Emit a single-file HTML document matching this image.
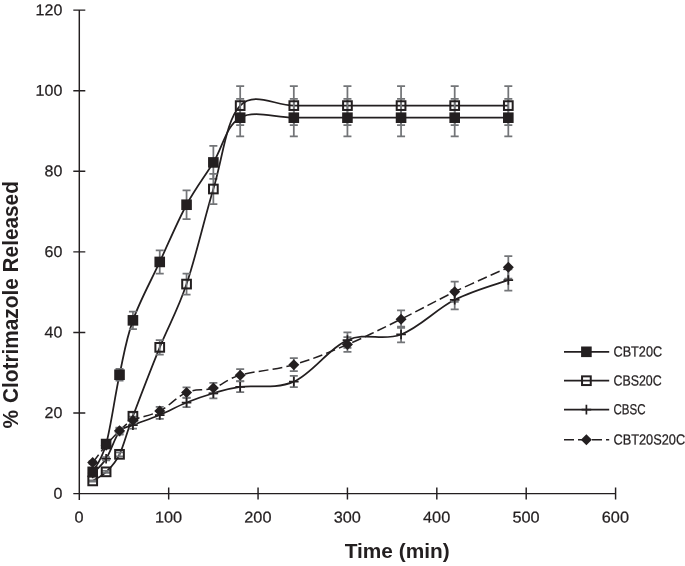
<!DOCTYPE html>
<html><head><meta charset="utf-8"><title>Clotrimazole release</title>
<style>html,body{margin:0;padding:0;background:#fff}svg{display:block}</style></head>
<body>
<svg width="685" height="566" viewBox="0 0 685 566" font-family="'Liberation Sans', sans-serif">
<rect width="685" height="566" fill="#fff"/>
<g stroke="#231f20" stroke-width="1.45" fill="none">
<path d="M79.3 10.12 V500.1"/>
<path d="M73.3 493.6 H615.58"/>
<path d="M73.3 413.02h12M73.3 332.44h12M73.3 251.86h12M73.3 171.28h12M73.3 90.7h12M73.3 10.12h12M168.68 487.6v12M258.06 487.6v12M347.44 487.6v12M436.82 487.6v12M526.2 487.6v12M615.58 487.6v12"/>
</g>
<g font-size="15.6" fill="#231f20" stroke="#231f20" stroke-width="0.25">
<text transform="translate(62.3 498.7) rotate(0.1)" text-anchor="end" textLength="8.9" lengthAdjust="spacingAndGlyphs">0</text>
<text transform="translate(62.3 418.12) rotate(0.1)" text-anchor="end" textLength="17.8" lengthAdjust="spacingAndGlyphs">20</text>
<text transform="translate(62.3 337.54) rotate(0.1)" text-anchor="end" textLength="17.8" lengthAdjust="spacingAndGlyphs">40</text>
<text transform="translate(62.3 256.96) rotate(0.1)" text-anchor="end" textLength="17.8" lengthAdjust="spacingAndGlyphs">60</text>
<text transform="translate(62.3 176.38) rotate(0.1)" text-anchor="end" textLength="17.8" lengthAdjust="spacingAndGlyphs">80</text>
<text transform="translate(62.3 95.8) rotate(0.1)" text-anchor="end" textLength="26.7" lengthAdjust="spacingAndGlyphs">100</text>
<text transform="translate(62.3 15.22) rotate(0.1)" text-anchor="end" textLength="26.7" lengthAdjust="spacingAndGlyphs">120</text>
<text transform="translate(79.1 522.6) rotate(0.1)" text-anchor="middle" textLength="9.05" lengthAdjust="spacingAndGlyphs">0</text>
<text transform="translate(168.48 522.6) rotate(0.1)" text-anchor="middle" textLength="27.15" lengthAdjust="spacingAndGlyphs">100</text>
<text transform="translate(257.86 522.6) rotate(0.1)" text-anchor="middle" textLength="27.15" lengthAdjust="spacingAndGlyphs">200</text>
<text transform="translate(347.24 522.6) rotate(0.1)" text-anchor="middle" textLength="27.15" lengthAdjust="spacingAndGlyphs">300</text>
<text transform="translate(436.62 522.6) rotate(0.1)" text-anchor="middle" textLength="27.15" lengthAdjust="spacingAndGlyphs">400</text>
<text transform="translate(526 522.6) rotate(0.1)" text-anchor="middle" textLength="27.15" lengthAdjust="spacingAndGlyphs">500</text>
<text transform="translate(615.38 522.6) rotate(0.1)" text-anchor="middle" textLength="27.15" lengthAdjust="spacingAndGlyphs">600</text>
</g>
<text x="397.2" y="557.8" text-anchor="middle" font-size="20.8" font-weight="bold" textLength="105" lengthAdjust="spacingAndGlyphs" fill="#231f20">Time (min)</text>
<text transform="translate(17.9 428.4) rotate(-90) scale(1 1.05)" font-size="20.8" font-weight="bold" fill="#231f20">% <tspan dx="1.2">Clotrimazole Released</tspan></text>
<path d="M92.71 471.84C95.06 466.97 101.41 461.08 106.11 444.04C110.82 427.01 114.82 396.44 119.52 374.74C124.23 353.04 125.87 340.14 132.93 320.35C139.98 300.56 150.33 282.22 159.74 261.93C169.15 241.65 177.15 222.18 186.56 204.72C195.96 187.26 203.96 177.68 213.37 162.42C222.78 147.15 226.07 125.54 240.18 117.69C254.3 109.85 275 117.69 293.81 117.69C312.63 117.69 328.62 117.69 347.44 117.69C366.26 117.69 382.25 117.69 401.07 117.69C419.88 117.69 435.88 117.69 454.7 117.69C473.51 117.69 498.92 117.69 508.32 117.69" fill="none" stroke="#231f20" stroke-width="1.75"/>
<path d="M92.71 470.76V472.93M88.71 470.76h8M88.71 472.93h8M106.11 441.57V446.52M102.11 441.57h8M102.11 446.52h8M119.52 368.8V380.69M115.52 368.8h8M115.52 380.69h8M132.93 311.69V329.02M128.93 311.69h8M128.93 329.02h8M159.74 250.35V273.52M155.74 250.35h8M155.74 273.52h8M186.56 190.28V219.16M182.56 190.28h8M182.56 219.16h8M213.37 145.86V178.98M209.37 145.86h8M209.37 178.98h8M240.18 98.9V136.49M236.18 98.9h8M236.18 136.49h8M293.81 98.9V136.49M289.81 98.9h8M289.81 136.49h8M347.44 98.9V136.49M343.44 98.9h8M343.44 136.49h8M401.07 98.9V136.49M397.07 98.9h8M397.07 136.49h8M454.7 98.9V136.49M450.7 98.9h8M450.7 136.49h8M508.32 98.9V136.49M504.32 98.9h8M504.32 136.49h8" fill="none" stroke="#737578" stroke-width="1.75"/>
<path d="M92.71 480.91C95.06 479.32 101.41 476.51 106.11 471.84C110.82 467.18 114.82 464.07 119.52 454.32C124.23 444.56 125.87 435.01 132.93 416.24C139.98 397.48 150.33 370.53 159.74 347.35C169.15 324.16 177.15 311.87 186.56 284.09C195.96 256.31 203.96 220.32 213.37 189.01C222.78 157.69 226.07 120.24 240.18 105.61C254.3 90.98 275 105.61 293.81 105.61C312.63 105.61 328.62 105.61 347.44 105.61C366.26 105.61 382.25 105.61 401.07 105.61C419.88 105.61 435.88 105.61 454.7 105.61C473.51 105.61 498.92 105.61 508.32 105.61" fill="none" stroke="#231f20" stroke-width="1.75"/>
<path d="M92.71 480.27V481.54M88.71 480.27h8M88.71 481.54h8M106.11 470.76V472.93M102.11 470.76h8M102.11 472.93h8M119.52 452.35V456.28M115.52 452.35h8M115.52 456.28h8M132.93 412.38V420.11M128.93 412.38h8M128.93 420.11h8M159.74 340.03V354.66M155.74 340.03h8M155.74 354.66h8M186.56 273.62V294.57M182.56 273.62h8M182.56 294.57h8M213.37 173.78V204.24M209.37 173.78h8M209.37 204.24h8M240.18 86.21V125.01M236.18 86.21h8M236.18 125.01h8M293.81 86.21V125.01M289.81 86.21h8M289.81 125.01h8M347.44 86.21V125.01M343.44 86.21h8M343.44 125.01h8M401.07 86.21V125.01M397.07 86.21h8M397.07 125.01h8M454.7 86.21V125.01M450.7 86.21h8M450.7 125.01h8M508.32 86.21V125.01M504.32 86.21h8M504.32 125.01h8" fill="none" stroke="#737578" stroke-width="1.75"/>
<path d="M92.71 473.46C95.06 470.88 101.41 466.1 106.11 458.75C110.82 451.4 114.82 437.46 119.52 431.55C124.23 425.65 125.87 428.01 132.93 425.11C139.98 422.21 150.33 418.99 159.74 415.03C169.15 411.08 177.15 406.36 186.56 402.54C195.96 398.73 203.96 396.03 213.37 393.28C222.78 390.52 226.07 388.88 240.18 386.83C254.3 384.78 275 389.79 293.81 381.59C312.63 373.39 328.62 348.37 347.44 340.1C366.26 331.83 382.25 341.52 401.07 334.45C419.88 327.39 435.88 309.35 454.7 299.81C473.51 290.26 498.92 283.53 508.32 280.06" fill="none" stroke="#231f20" stroke-width="1.75"/>
<path d="M92.71 472.45V474.46M88.71 472.45h8M88.71 474.46h8M106.11 457.01V460.49M102.11 457.01h8M102.11 460.49h8M119.52 428.45V434.66M115.52 428.45h8M115.52 434.66h8M132.93 421.68V428.53M128.93 421.68h8M128.93 428.53h8M159.74 411.11V418.96M155.74 411.11h8M155.74 418.96h8M186.56 397.99V407.1M182.56 397.99h8M182.56 407.1h8M213.37 388.26V398.29M209.37 388.26h8M209.37 398.29h8M240.18 381.49V392.17M236.18 381.49h8M236.18 392.17h8M293.81 375.99V387.19M289.81 375.99h8M289.81 387.19h8M347.44 332.42V347.77M343.44 332.42h8M343.44 347.77h8M401.07 326.5V342.41M397.07 326.5h8M397.07 342.41h8M454.7 290.12V309.49M450.7 290.12h8M450.7 309.49h8M508.32 269.39V290.74M504.32 269.39h8M504.32 290.74h8" fill="none" stroke="#737578" stroke-width="1.75"/>
<path d="M92.71 462.58C95.06 459.54 101.41 450.84 106.11 445.25C110.82 439.67 114.82 435.13 119.52 430.75C124.23 426.37 125.87 423.74 132.93 420.27C139.98 416.81 150.33 415.88 159.74 411.01C169.15 406.13 177.15 396.5 186.56 392.47C195.96 388.44 203.96 391.08 213.37 388.04C222.78 385 226.07 379.25 240.18 375.15C254.3 371.05 275 370.04 293.81 364.67C312.63 359.3 328.62 352.51 347.44 344.53C366.26 336.54 382.25 328.4 401.07 319.14C419.88 309.88 435.88 300.83 454.7 291.75C473.51 282.66 498.92 271.65 508.32 267.37" fill="none" stroke="#231f20" stroke-width="1.5" stroke-dasharray="9.8 4.2"/>
<path d="M92.71 461.03V464.13M88.71 461.03h8M88.71 464.13h8M106.11 442.83V447.67M102.11 442.83h8M102.11 447.67h8M119.52 427.6V433.89M115.52 427.6h8M115.52 433.89h8M132.93 416.61V423.94M128.93 416.61h8M128.93 423.94h8M159.74 406.88V415.14M155.74 406.88h8M155.74 415.14h8M186.56 387.42V397.53M182.56 387.42h8M182.56 397.53h8M213.37 382.76V393.32M209.37 382.76h8M209.37 393.32h8M240.18 369.22V381.07M236.18 369.22h8M236.18 381.07h8M293.81 358.23V371.12M289.81 358.23h8M289.81 371.12h8M347.44 337.07V351.98M343.44 337.07h8M343.44 351.98h8M401.07 310.42V327.87M397.07 310.42h8M397.07 327.87h8M454.7 281.65V301.84M450.7 281.65h8M450.7 301.84h8M508.32 256.06V278.68M504.32 256.06h8M504.32 278.68h8" fill="none" stroke="#737578" stroke-width="1.75"/>
<rect x="87.41" y="466.54" width="10.6" height="10.6" fill="#231f20"/>
<rect x="100.81" y="438.74" width="10.6" height="10.6" fill="#231f20"/>
<rect x="114.22" y="369.44" width="10.6" height="10.6" fill="#231f20"/>
<rect x="127.63" y="315.05" width="10.6" height="10.6" fill="#231f20"/>
<rect x="154.44" y="256.63" width="10.6" height="10.6" fill="#231f20"/>
<rect x="181.26" y="199.42" width="10.6" height="10.6" fill="#231f20"/>
<rect x="208.07" y="157.12" width="10.6" height="10.6" fill="#231f20"/>
<rect x="234.88" y="112.39" width="10.6" height="10.6" fill="#231f20"/>
<rect x="288.51" y="112.39" width="10.6" height="10.6" fill="#231f20"/>
<rect x="342.14" y="112.39" width="10.6" height="10.6" fill="#231f20"/>
<rect x="395.77" y="112.39" width="10.6" height="10.6" fill="#231f20"/>
<rect x="449.4" y="112.39" width="10.6" height="10.6" fill="#231f20"/>
<rect x="503.02" y="112.39" width="10.6" height="10.6" fill="#231f20"/>
<rect x="88.36" y="476.56" width="8.7" height="8.7" fill="none" stroke="#231f20" stroke-width="2"/>
<rect x="101.76" y="467.49" width="8.7" height="8.7" fill="none" stroke="#231f20" stroke-width="2"/>
<rect x="115.17" y="449.97" width="8.7" height="8.7" fill="none" stroke="#231f20" stroke-width="2"/>
<rect x="128.58" y="411.89" width="8.7" height="8.7" fill="none" stroke="#231f20" stroke-width="2"/>
<rect x="155.39" y="343" width="8.7" height="8.7" fill="none" stroke="#231f20" stroke-width="2"/>
<rect x="182.21" y="279.74" width="8.7" height="8.7" fill="none" stroke="#231f20" stroke-width="2"/>
<rect x="209.02" y="184.66" width="8.7" height="8.7" fill="none" stroke="#231f20" stroke-width="2"/>
<rect x="235.83" y="101.26" width="8.7" height="8.7" fill="none" stroke="#231f20" stroke-width="2"/>
<rect x="289.46" y="101.26" width="8.7" height="8.7" fill="none" stroke="#231f20" stroke-width="2"/>
<rect x="343.09" y="101.26" width="8.7" height="8.7" fill="none" stroke="#231f20" stroke-width="2"/>
<rect x="396.72" y="101.26" width="8.7" height="8.7" fill="none" stroke="#231f20" stroke-width="2"/>
<rect x="450.35" y="101.26" width="8.7" height="8.7" fill="none" stroke="#231f20" stroke-width="2"/>
<rect x="503.97" y="101.26" width="8.7" height="8.7" fill="none" stroke="#231f20" stroke-width="2"/>
<path d="M87.91 473.46h9.6M92.71 468.66v9.6" stroke="#231f20" stroke-width="1.7" fill="none"/>
<path d="M101.31 458.75h9.6M106.11 453.95v9.6" stroke="#231f20" stroke-width="1.7" fill="none"/>
<path d="M114.72 431.55h9.6M119.52 426.75v9.6" stroke="#231f20" stroke-width="1.7" fill="none"/>
<path d="M128.13 425.11h9.6M132.93 420.31v9.6" stroke="#231f20" stroke-width="1.7" fill="none"/>
<path d="M154.94 415.03h9.6M159.74 410.23v9.6" stroke="#231f20" stroke-width="1.7" fill="none"/>
<path d="M181.76 402.54h9.6M186.56 397.74v9.6" stroke="#231f20" stroke-width="1.7" fill="none"/>
<path d="M208.57 393.28h9.6M213.37 388.48v9.6" stroke="#231f20" stroke-width="1.7" fill="none"/>
<path d="M235.38 386.83h9.6M240.18 382.03v9.6" stroke="#231f20" stroke-width="1.7" fill="none"/>
<path d="M289.01 381.59h9.6M293.81 376.79v9.6" stroke="#231f20" stroke-width="1.7" fill="none"/>
<path d="M342.64 340.1h9.6M347.44 335.3v9.6" stroke="#231f20" stroke-width="1.7" fill="none"/>
<path d="M396.27 334.45h9.6M401.07 329.65v9.6" stroke="#231f20" stroke-width="1.7" fill="none"/>
<path d="M449.9 299.81h9.6M454.7 295.01v9.6" stroke="#231f20" stroke-width="1.7" fill="none"/>
<path d="M503.52 280.06h9.6M508.32 275.26v9.6" stroke="#231f20" stroke-width="1.7" fill="none"/>
<path d="M92.71 457.08l5.5 5.5l-5.5 5.5l-5.5 -5.5z" fill="#231f20"/>
<path d="M106.11 439.75l5.5 5.5l-5.5 5.5l-5.5 -5.5z" fill="#231f20"/>
<path d="M119.52 425.25l5.5 5.5l-5.5 5.5l-5.5 -5.5z" fill="#231f20"/>
<path d="M132.93 414.77l5.5 5.5l-5.5 5.5l-5.5 -5.5z" fill="#231f20"/>
<path d="M159.74 405.51l5.5 5.5l-5.5 5.5l-5.5 -5.5z" fill="#231f20"/>
<path d="M186.56 386.97l5.5 5.5l-5.5 5.5l-5.5 -5.5z" fill="#231f20"/>
<path d="M213.37 382.54l5.5 5.5l-5.5 5.5l-5.5 -5.5z" fill="#231f20"/>
<path d="M240.18 369.65l5.5 5.5l-5.5 5.5l-5.5 -5.5z" fill="#231f20"/>
<path d="M293.81 359.17l5.5 5.5l-5.5 5.5l-5.5 -5.5z" fill="#231f20"/>
<path d="M347.44 339.03l5.5 5.5l-5.5 5.5l-5.5 -5.5z" fill="#231f20"/>
<path d="M401.07 313.64l5.5 5.5l-5.5 5.5l-5.5 -5.5z" fill="#231f20"/>
<path d="M454.7 286.25l5.5 5.5l-5.5 5.5l-5.5 -5.5z" fill="#231f20"/>
<path d="M508.32 261.87l5.5 5.5l-5.5 5.5l-5.5 -5.5z" fill="#231f20"/>
<path d="M564 351.8H609.2" stroke="#231f20" stroke-width="1.7" fill="none"/>
<rect x="581.1" y="346.5" width="10.6" height="10.6" fill="#231f20"/>
<text transform="translate(613.5 356.5) rotate(0.1)" font-size="14.6" textLength="48.6" lengthAdjust="spacingAndGlyphs" fill="#231f20" stroke="#231f20" stroke-width="0.25">CBT20C</text>
<path d="M564 380.7H609.2" stroke="#231f20" stroke-width="1.7" fill="none"/>
<rect x="582.05" y="376.35" width="8.7" height="8.7" fill="none" stroke="#231f20" stroke-width="2"/>
<text transform="translate(613.5 385.4) rotate(0.1)" font-size="14.6" textLength="48.2" lengthAdjust="spacingAndGlyphs" fill="#231f20" stroke="#231f20" stroke-width="0.25">CBS20C</text>
<path d="M564 409.6H609.2" stroke="#231f20" stroke-width="1.7" fill="none"/>
<path d="M581.6 409.6h9.6M586.4 404.8v9.6" stroke="#231f20" stroke-width="1.7" fill="none"/>
<text transform="translate(613.5 414.3) rotate(0.1)" font-size="14.6" textLength="32" lengthAdjust="spacingAndGlyphs" fill="#231f20" stroke="#231f20" stroke-width="0.25">CBSC</text>
<path d="M564 439.7H609.2" stroke="#231f20" stroke-width="1.5" fill="none" stroke-dasharray="10 4"/>
<path d="M586.4 434.2l5.5 5.5l-5.5 5.5l-5.5 -5.5z" fill="#231f20"/>
<text transform="translate(613.5 444.4) rotate(0.1)" font-size="14.6" textLength="71.6" lengthAdjust="spacingAndGlyphs" fill="#231f20" stroke="#231f20" stroke-width="0.25">CBT20S20C</text>
</svg>
</body></html>
